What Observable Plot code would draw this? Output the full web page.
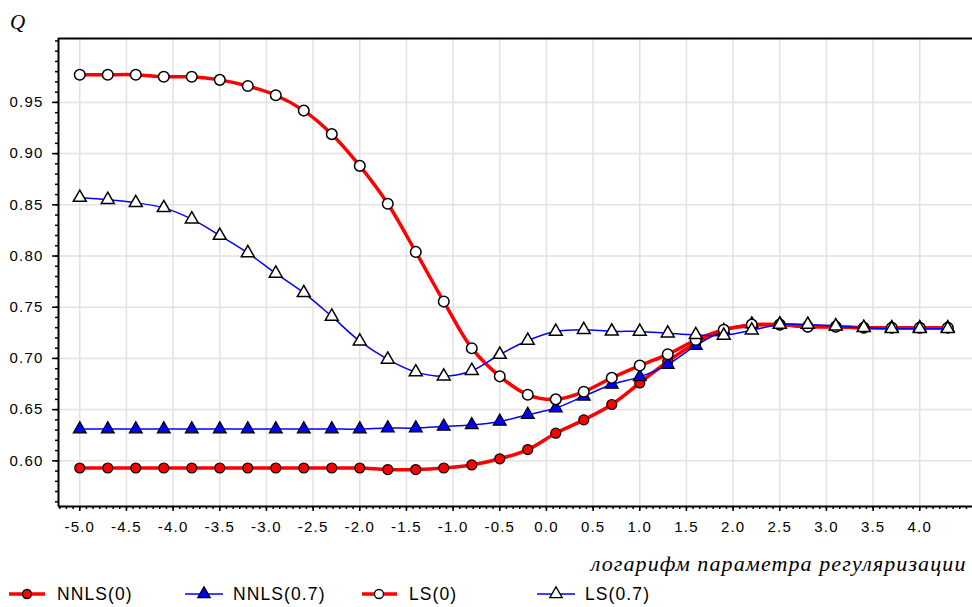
<!DOCTYPE html>
<html>
<head>
<meta charset="utf-8">
<script src="https://cdn.jsdelivr.net/npm/d3@7"></script>
<script src="https://cdn.jsdelivr.net/npm/@observablehq/plot@0.6"></script>
<style>
  body { margin: 0; background: #fff; }
  #wrap { position: relative; width: 972px; height: 607px; overflow: hidden; background: #fff; }
  #wrap svg g[aria-label="x-axis tick label"], #wrap svg g[aria-label="y-axis tick label"] { letter-spacing: 1.2px; }
  .leg { position: absolute; top: 583px; height: 22px; }
  .leg svg { position: absolute; top: 0; left: 0; overflow: visible; }
  .leg span { position: absolute; top: 0; font: 17.5px "Liberation Sans", Arial, sans-serif; letter-spacing: 1.1px; line-height: 22px; white-space: nowrap; color: #000; }
</style>
</head>
<body>
<div id="wrap"></div>
<script>
// ---- data ----
const xValues = [-5.0, -4.7, -4.4, -4.1, -3.8, -3.5, -3.2, -2.9, -2.6, -2.3, -2.0, -1.7, -1.4, -1.1, -0.8, -0.5,
                 -0.2, 0.1, 0.4, 0.7, 1.0, 1.3, 1.6, 1.9, 2.2, 2.5, 2.8, 3.1, 3.4, 3.7, 4.0, 4.3];
const nnls0  = [0.593, 0.593, 0.593, 0.593, 0.593, 0.593, 0.593, 0.593, 0.593, 0.593, 0.593, 0.5915, 0.5915, 0.593, 0.596, 0.602,
                0.611, 0.627, 0.640, 0.655, 0.676, 0.697, 0.715, 0.728, 0.732, 0.733, 0.731, 0.731, 0.730, 0.730, 0.730, 0.730];
const nnls07 = [0.631, 0.631, 0.631, 0.631, 0.631, 0.631, 0.631, 0.631, 0.631, 0.631, 0.631, 0.632, 0.632, 0.6335, 0.635, 0.6385,
                0.645, 0.6515, 0.663, 0.6745, 0.682, 0.694, 0.7125, 0.727, 0.7335, 0.7335, 0.733, 0.7315, 0.730, 0.730, 0.730, 0.730];
const ls0    = [0.977, 0.977, 0.977, 0.975, 0.975, 0.972, 0.966, 0.957, 0.942, 0.919, 0.888, 0.851, 0.804, 0.7555, 0.710, 0.6825,
                0.6645, 0.660, 0.6675, 0.681, 0.693, 0.704, 0.718, 0.728, 0.733, 0.733, 0.731, 0.731, 0.730, 0.730, 0.730, 0.730];
const ls07   = [0.857, 0.855, 0.852, 0.847, 0.836, 0.820, 0.803, 0.783, 0.764, 0.741, 0.7168, 0.699, 0.6866, 0.6826, 0.688, 0.7038,
                0.7175, 0.7263, 0.728, 0.7265, 0.7263, 0.7246, 0.723, 0.7224, 0.7275, 0.733, 0.733, 0.7315, 0.730, 0.729, 0.729, 0.729];

const seriesNames = ["NNLS(0)", "NNLS(0.7)", "LS(0)", "LS(0.7)"];

const xTicks = [-5.0, -4.5, -4.0, -3.5, -3.0, -2.5, -2.0, -1.5, -1.0, -0.5, 0.0, 0.5, 1.0, 1.5, 2.0, 2.5, 3.0, 3.5, 4.0];
const xTickLabels = ["-5.0", "-4.5", "-4.0", "-3.5", "-3.0", "-2.5", "-2.0", "-1.5", "-1.0", "-0.5", "0.0", "0.5", "1.0", "1.5", "2.0", "2.5", "3.0", "3.5", "4.0"];
const yTicks = [0.60, 0.65, 0.70, 0.75, 0.80, 0.85, 0.90, 0.95];
const yTickLabels = ["0.60", "0.65", "0.70", "0.75", "0.80", "0.85", "0.90", "0.95"];

const yTitle = "Q";
const xTitle = "логарифм параметра регуляризации";

// ---- layout ----
const xDomain = [-5.228, 4.565];
const yDomain = [0.5554, 1.0124];
const xMinor = d3.range(-5.5, 4.6, 0.5 / 7).filter(v => v >= xDomain[0] && v <= xDomain[1]);
const yMinor = d3.range(0.56, 1.011, 0.01);

const RED = "#ff0000", BLUE = "#0000ff";
const mk = (arr) => xValues.map((x, i) => ({x, y: arr[i]}));
const dNN0 = mk(nnls0), dNN07 = mk(nnls07), dLS0 = mk(ls0), dLS07 = mk(ls07);

const chart = Plot.plot({
  width: 972,
  height: 607,
  marginLeft: 58,
  marginRight: 0,
  marginTop: 38,
  marginBottom: 101,
  style: {fontFamily: '"Liberation Sans", Arial, sans-serif', fontSize: "15px", background: "white", overflow: "visible"},
  x: {domain: xDomain},
  y: {domain: yDomain},
  marks: [
    Plot.gridX(xTicks, {stroke: "#e2e2e2", strokeOpacity: 1, strokeWidth: 1.5}),
    Plot.gridY(yTicks, {stroke: "#e2e2e2", strokeOpacity: 1, strokeWidth: 1.5}),
    Plot.axisX(xMinor, {anchor: "bottom", tickSize: 3, tickFormat: () => "", strokeWidth: 1.5, label: null}),
    Plot.axisX(xTicks, {anchor: "bottom", tickSize: 5, tickPadding: 10, tickFormat: (d, i) => xTickLabels[i], fontSize: 15, strokeWidth: 1.5, label: null}),
    Plot.axisY(yMinor, {anchor: "left", tickSize: 3, tickFormat: () => "", strokeWidth: 1.5, label: null}),
    Plot.axisY(yTicks, {anchor: "left", tickSize: 6, tickPadding: 9, tickFormat: (d, i) => yTickLabels[i], fontSize: 15, strokeWidth: 1.5, label: null}),
    // frame: left, top, bottom
    Plot.ruleY([yDomain[0], yDomain[1]], {stroke: "black", strokeWidth: 2}),
    Plot.ruleX([xDomain[0]], {stroke: "black", strokeWidth: 2}),
    // series
    Plot.line(dNN0, {x: "x", y: "y", stroke: RED, strokeWidth: 3.5, curve: "catmull-rom"}),
    Plot.dot(dNN0, {x: "x", y: "y", r: 5, fill: RED, stroke: "black", strokeWidth: 1.2}),
    Plot.line(dNN07, {x: "x", y: "y", stroke: BLUE, strokeWidth: 1.5, curve: "catmull-rom"}),
    Plot.dot(dNN07, {x: "x", y: "y", symbol: "triangle", r: 4.8, fill: BLUE, stroke: "black", strokeWidth: 1.2}),
    Plot.line(dLS0, {x: "x", y: "y", stroke: RED, strokeWidth: 3.5, curve: "catmull-rom"}),
    Plot.dot(dLS0, {x: "x", y: "y", r: 5.3, fill: "white", stroke: "black", strokeWidth: 1.5}),
    Plot.line(dLS07, {x: "x", y: "y", stroke: BLUE, strokeWidth: 1.5, curve: "catmull-rom"}),
    Plot.dot(dLS07, {x: "x", y: "y", symbol: "triangle", r: 4.8, fill: "white", stroke: "black", strokeWidth: 1.5}),
    // titles
    Plot.text([yTitle], {frameAnchor: "top-left", dx: -41, dy: -16, textAnchor: "middle", lineAnchor: "middle",
      fontFamily: '"Liberation Serif", "Times New Roman", serif', fontStyle: "italic", fontSize: 21}),
    Plot.text([xTitle], {frameAnchor: "bottom-right", dx: -6, dy: 57, textAnchor: "end", lineAnchor: "middle",
      fontFamily: '"Liberation Serif", "Times New Roman", serif', fontStyle: "italic", fontSize: 22})
  ]
});
const wrap = document.getElementById("wrap");
wrap.appendChild(chart);
// widen the axis title's letter spacing to match the reference
chart.querySelectorAll("text").forEach(t => { if (t.textContent === xTitle) t.style.letterSpacing = "1.1px"; });

// ---- legend ----
const legendStyle = [
  {color: RED, width: 3.5, symbol: "circle", fill: RED, x0: 9, x1: 45, mx: 27, tx: 57},
  {color: BLUE, width: 1.5, symbol: "triangle", fill: BLUE, x0: 185, x1: 223, mx: 204, tx: 233},
  {color: RED, width: 3.5, symbol: "circle", fill: "white", x0: 362, x1: 397, mx: 379, tx: 409},
  {color: BLUE, width: 1.5, symbol: "triangle", fill: "white", x0: 537, x1: 575, mx: 556, tx: 585}
];
seriesNames.forEach((name, i) => {
  const s = legendStyle[i];
  const item = document.createElement("div");
  item.className = "leg";
  item.style.left = "0px";
  const ns = "http://www.w3.org/2000/svg";
  const svg = document.createElementNS(ns, "svg");
  svg.setAttribute("width", 972); svg.setAttribute("height", 22);
  const line = document.createElementNS(ns, "line");
  line.setAttribute("x1", s.x0); line.setAttribute("x2", s.x1);
  line.setAttribute("y1", 11); line.setAttribute("y2", 11);
  line.setAttribute("stroke", s.color); line.setAttribute("stroke-width", s.width);
  svg.appendChild(line);
  const p = document.createElementNS(ns, "path");
  const sym = s.symbol === "circle" ? d3.symbolCircle : d3.symbolTriangle;
  const size = s.symbol === "circle" ? Math.PI * 4.5 * 4.5 : Math.PI * 4.6 * 4.6;
  p.setAttribute("d", d3.symbol(sym, size)());
  p.setAttribute("transform", `translate(${s.mx},11)`);
  p.setAttribute("fill", s.fill); p.setAttribute("stroke", "black"); p.setAttribute("stroke-width", 1.3);
  svg.appendChild(p);
  item.appendChild(svg);
  const t = document.createElement("span");
  t.textContent = name;
  t.style.left = s.tx + "px";
  item.appendChild(t);
  wrap.appendChild(item);
});
</script>
</body>
</html>
